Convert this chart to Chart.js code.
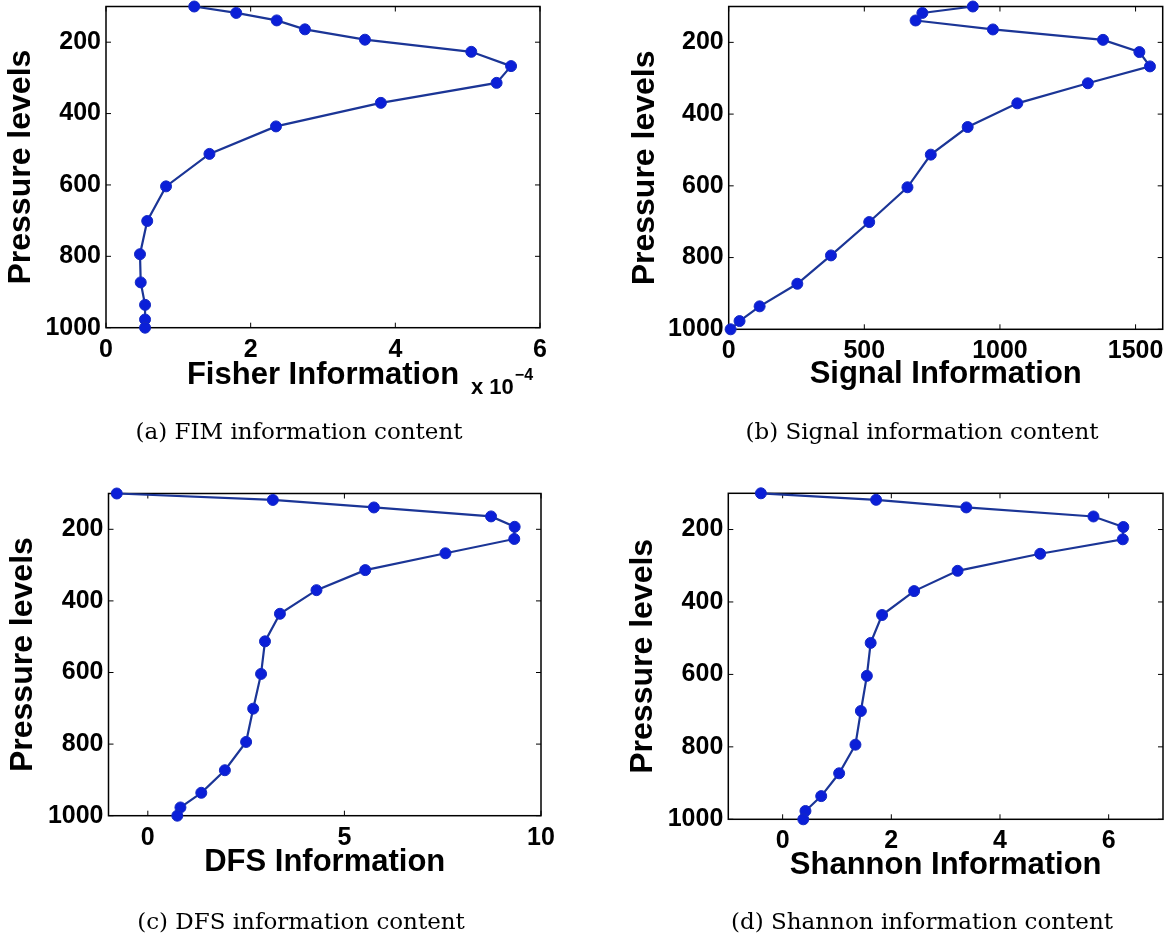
<!DOCTYPE html>
<html>
<head>
<meta charset="utf-8">
<title>Information content profiles</title>
<script src="https://cdn.jsdelivr.net/npm/chart.js@4.4.1/dist/chart.umd.min.js"></script>
<style>
  body { margin: 0; background: #fff; }
  #page { position: relative; width: 1171px; height: 938px; overflow: hidden; background: #fff; }
  canvas { position: absolute; }
  .caption {
    position: absolute; width: 500px; text-align: center; white-space: nowrap;
    font-family: "DejaVu Serif", serif; font-size: 23px; line-height: 23px; color: #000;
  }
</style>
</head>
<body>
<div id="page">
  <canvas id="fim" width="580" height="460" style="left:0px;top:0px"></canvas>
  <canvas id="signal" width="581" height="460" style="left:590px;top:0px"></canvas>
  <canvas id="dfs" width="580" height="468" style="left:0px;top:470px"></canvas>
  <canvas id="shannon" width="581" height="468" style="left:590px;top:470px"></canvas>
  <div class="caption" style="left:49px;top:420px">(a) FIM information content</div>
  <div class="caption" style="left:672px;top:420px">(b) Signal information content</div>
  <div class="caption" style="left:51px;top:910px">(c) DFS information content</div>
  <div class="caption" style="left:672px;top:910px">(d) Shannon information content</div>
</div>
<script>
// values, top of the profile first
const pressureLevels = [100, 118, 139, 164, 193, 227, 267, 314, 370, 436, 513, 604, 701, 794, 873, 936, 977, 1000];
const fisherInfo = [1.22e-4, 1.80e-4, 2.36e-4, 2.75e-4, 3.58e-4, 5.05e-4, 5.60e-4, 5.40e-4, 3.80e-4,
                    2.35e-4, 1.43e-4, 0.83e-4, 0.57e-4, 0.47e-4, 0.48e-4, 0.54e-4, 0.54e-4, 0.54e-4];
const signalInfo = [900, 714, 689, 974, 1380, 1514, 1553, 1324, 1064, 881, 745, 659, 518, 377, 253, 114, 40, 7];
const dfsInfo = [-0.79, 3.18, 5.75, 8.73, 9.33, 9.32, 7.57, 5.53, 4.29, 3.36, 2.98, 2.88, 2.68, 2.50, 1.96, 1.36, 0.83, 0.75];
const shannonInfo = [-0.40, 1.72, 3.38, 5.72, 6.27, 6.26, 4.74, 3.22, 2.42, 1.83, 1.62, 1.55, 1.44, 1.34, 1.04, 0.71, 0.42, 0.38];

// tick labels
const pressureTicks = [200, 400, 600, 800, 1000];
const fisherTicks = [0, 2e-4, 4e-4, 6e-4];
const signalTicks = [0, 500, 1000, 1500];
const dfsTicks = [0, 5, 10];
const shannonTicks = [0, 2, 4, 6];

const SANS = '"Liberation Sans", Arial, Helvetica, sans-serif';

// box round the plot area with inward ticks on all four sides, like matlab
const boxTicks = {
  id: 'boxTicks',
  beforeDatasetsDraw(chart) {
    const {ctx, chartArea: a, scales: {x, y}} = chart;
    ctx.save();
    ctx.strokeStyle = '#000';
    ctx.lineWidth = 1.5;
    ctx.strokeRect(a.left, a.top, a.right - a.left, a.bottom - a.top);
    ctx.lineWidth = 1;
    ctx.beginPath();
    x.ticks.forEach(t => {
      const px = x.getPixelForValue(t.value);
      ctx.moveTo(px, a.bottom); ctx.lineTo(px, a.bottom - 5);
      ctx.moveTo(px, a.top); ctx.lineTo(px, a.top + 5);
    });
    y.ticks.forEach(t => {
      const py = y.getPixelForValue(t.value);
      ctx.moveTo(a.left, py); ctx.lineTo(a.left + 5, py);
      ctx.moveTo(a.right, py); ctx.lineTo(a.right - 5, py);
    });
    ctx.stroke();
    ctx.restore();
  },
  afterDraw(chart, args, opts) {
    if (!opts.exponent) return;
    const {ctx, chartArea: a} = chart;
    ctx.save();
    ctx.fillStyle = '#000';
    ctx.textAlign = 'left';
    ctx.textBaseline = 'alphabetic';
    ctx.font = 'bold 22px ' + SANS;
    const x0 = a.right - 69;
    ctx.fillText('x 10', x0, a.bottom + 66);
    const w = ctx.measureText('x 10').width;
    ctx.font = 'bold 16px ' + SANS;
    ctx.fillText(opts.exponent, x0 + w + 1, a.bottom + 52);
    ctx.restore();
  }
};

function makePanel(p) {
  const points = pressureLevels.map((lev, i) => ({x: p.values[i], y: lev}));
  new Chart(document.getElementById(p.id), {
    type: 'line',
    data: {
      datasets: [{
        data: points,
        borderColor: '#1b3596',
        borderWidth: 2.2,
        pointRadius: 5.5,
        pointBackgroundColor: '#0b1fd8',
        pointBorderColor: '#1429c4',
        pointBorderWidth: 1,
        tension: 0,
        clip: false
      }]
    },
    options: {
      responsive: false,
      animation: false,
      devicePixelRatio: 1,
      layout: {padding: {top: p.padTop, right: p.padRight, bottom: 0, left: 0}},
      plugins: {
        legend: {display: false},
        tooltip: {enabled: false},
        boxTicks: {exponent: p.exponent || ''}
      },
      scales: {
        x: {
          type: 'linear',
          min: p.xMin,
          max: p.xMax,
          afterBuildTicks: s => { s.ticks = p.xTicks.map(v => ({value: v})); },
          afterFit: s => { s.height = p.xAxisH; s.paddingLeft = 0; s.paddingRight = 0; },
          grid: {display: false, drawTicks: false},
          border: {display: false},
          ticks: {
            color: '#000', padding: 7, maxRotation: 0, autoSkip: false,
            font: {family: SANS, size: 25, weight: 'bold'},
            callback: p.format || (v => String(v))
          },
          title: {
            display: true, text: p.xTitle, color: '#000',
            font: {family: SANS, size: 31, weight: 'bold'},
            padding: {top: 0, bottom: p.xTitlePad}
          }
        },
        y: {
          type: 'linear',
          reverse: true,
          min: 100,
          max: 1000,
          afterBuildTicks: s => { s.ticks = pressureTicks.map(v => ({value: v})); },
          afterFit: s => { s.width = p.yAxisW; s.paddingTop = 0; s.paddingBottom = 0; },
          grid: {display: false, drawTicks: false},
          border: {display: false},
          ticks: {
            color: '#000', padding: 5,
            font: {family: SANS, size: 25, weight: 'bold'},
            callback: v => String(v)
          },
          title: {
            display: true, text: 'Pressure levels', color: '#000',
            font: {family: SANS, size: 32, weight: 'bold'},
            padding: {top: p.yTitlePad, bottom: 0}
          }
        }
      }
    },
    plugins: [boxTicks]
  });
}

makePanel({
  id: 'fim', values: fisherInfo, xMin: 0, xMax: 6e-4, xTicks: fisherTicks,
  format: v => String(Math.round(v * 1e4)), exponent: '\u22124',
  xTitle: 'Fisher Information',
  padTop: 3.3, padRight: 40, yAxisW: 106, xAxisH: 132.3, yTitlePad: 2, xTitlePad: 65.5
});
makePanel({
  id: 'signal', values: signalInfo, xMin: 0, xMax: 1600, xTicks: signalTicks,
  xTitle: 'Signal Information',
  padTop: 3.7, padRight: 8.3, yAxisW: 138.7, xAxisH: 130.7, yTitlePad: 35.7, xTitlePad: 67
});
makePanel({
  id: 'dfs', values: dfsInfo, xMin: -1, xMax: 10, xTicks: dfsTicks,
  xTitle: 'DFS Information',
  padTop: 23.5, padRight: 39, yAxisW: 108.5, xAxisH: 122.3, yTitlePad: 4, xTitlePad: 56.6
});
makePanel({
  id: 'shannon', values: shannonInfo, xMin: -1, xMax: 7, xTicks: shannonTicks,
  xTitle: 'Shannon Information',
  padTop: 23.3, padRight: 8, yAxisW: 138.3, xAxisH: 118.7, yTitlePad: 34, xTitlePad: 54.3
});
</script>
</body>
</html>
